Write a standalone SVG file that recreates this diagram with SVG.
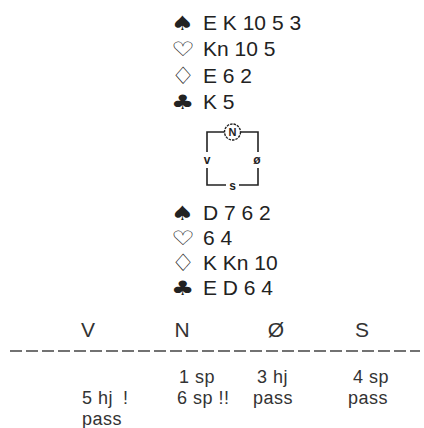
<svg xmlns="http://www.w3.org/2000/svg" width="424" height="428" viewBox="0 0 424 428">
<style>
.t{font-family:"Liberation Sans",Arial,sans-serif;font-size:21px;fill:#222}
.s{font-family:"DejaVu Sans",sans-serif;font-size:20px;fill:#222}
.c{font-family:"Liberation Sans",Arial,sans-serif;font-size:12px;font-weight:bold;fill:#222;text-anchor:middle}
.ln{stroke:#222;stroke-width:1.6;fill:none}
.h{font-family:"Liberation Sans",Arial,sans-serif;font-size:21px;fill:#333;text-anchor:middle}
.b{font-family:"Liberation Sans",Arial,sans-serif;font-size:18px;letter-spacing:0.5px;fill:#333}
</style>
<rect width="424" height="428" fill="#fff"/>
<g id="north">
<text class="s" transform="translate(171,30) scale(1.3,1)">♠</text><text class="t" x="203" y="30">E K 10 5 3</text>
<text class="s" transform="translate(171,56) scale(1.3,1)">♡</text><text class="t" x="203" y="56">Kn 10 5</text>
<text class="s" transform="translate(171,84) scale(1.35,1.2)">♢</text><text class="t" x="203" y="83">E 6 2</text>
<text class="s" transform="translate(171,109) scale(1.3,1)">♣</text><text class="t" x="203" y="109">K 5</text>
</g>
<g id="compass">
<path class="ln" d="M207,152 V132 H224 M241,132 H258 V152"/>
<path class="ln" d="M207,168 V185 H226 M239,185 H258 V168"/>
<circle cx="232.5" cy="132" r="8" fill="#fff" stroke="#222" stroke-width="1.4" stroke-dasharray="2.5,1"/>
<text class="c" x="232.5" y="136" style="font-size:11px">N</text>
<text class="c" x="207" y="164">v</text>
<text class="c" x="257" y="164">ø</text>
<text class="c" x="232.5" y="190">s</text>
</g>
<g id="south">
<text class="s" transform="translate(171,220) scale(1.3,1)">♠</text><text class="t" x="203" y="220">D 7 6 2</text>
<text class="s" transform="translate(171,245) scale(1.3,1)">♡</text><text class="t" x="203" y="245">6 4</text>
<text class="s" transform="translate(171,271) scale(1.35,1.2)">♢</text><text class="t" x="203" y="270">K Kn 10</text>
<text class="s" transform="translate(171,295) scale(1.3,1)">♣</text><text class="t" x="203" y="295">E D 6 4</text>
</g>
<g id="bidding">
<text class="h" x="88" y="337">V</text>
<text class="h" x="182" y="337">N</text>
<text class="h" x="276" y="337">Ø</text>
<text class="h" x="362" y="337">S</text>
<line x1="10" y1="351" x2="420" y2="351" stroke="#444" stroke-width="1.6" stroke-dasharray="12,4"/>
<text class="b" x="179" y="383">1 sp</text>
<text class="b" x="257" y="383">3 hj</text>
<text class="b" x="353" y="383">4 sp</text>
<text class="b" x="82" y="404">5 hj</text>
<text class="b" x="123" y="404">!</text>
<text class="b" x="177" y="404">6 sp !!</text>
<text class="b" x="253" y="404">pass</text>
<text class="b" x="348" y="404">pass</text>
<text class="b" x="82" y="425">pass</text>
</g>
</svg>
